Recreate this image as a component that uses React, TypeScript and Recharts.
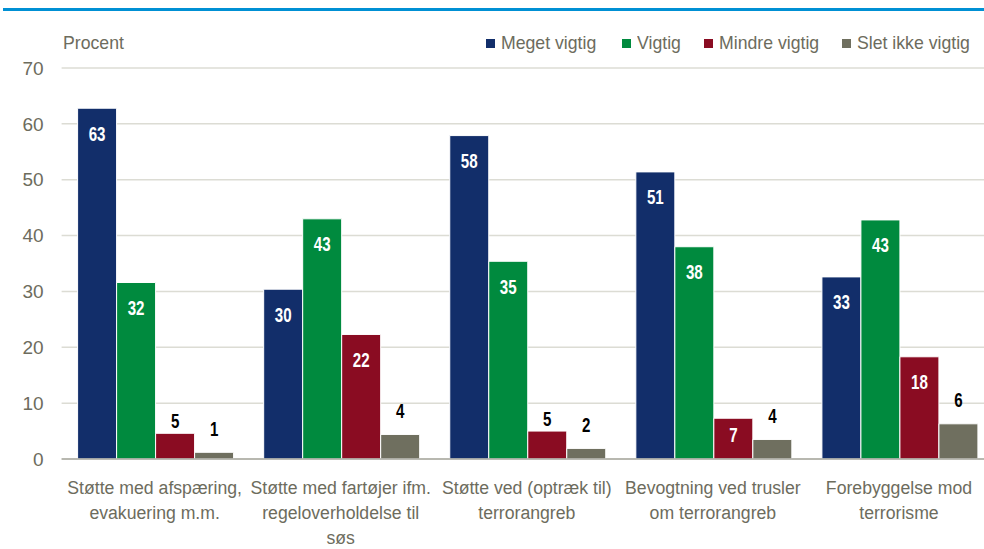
import React from 'react';
import {
  BarChart,
  Bar,
  XAxis,
  YAxis,
  CartesianGrid,
  LabelList,
} from 'recharts';

const categories = [
  ['Støtte med afspæring,', 'evakuering m.m.'],
  ['Støtte med fartøjer ifm.', 'regeloverholdelse til', 'søs'],
  ['Støtte ved (optræk til)', 'terrorangreb'],
  ['Bevogtning ved trusler', 'om terrorangreb'],
  ['Forebyggelse mod', 'terrorisme'],
];

const megetVigtig = [62.8, 30.4, 57.9, 51.4, 32.6];
const vigtig = [31.6, 43.0, 35.4, 38.0, 42.8];
const mindreVigtig = [4.6, 22.3, 5.0, 7.3, 18.3];
const sletIkkeVigtig = [1.2, 4.4, 1.9, 3.5, 6.3];

const yTicks = [0, 10, 20, 30, 40, 50, 60, 70];

const series = [
  { key: 'meget', name: 'Meget vigtig', color: '#122e6a', outside: 13 },
  { key: 'vigtig', name: 'Vigtig', color: '#008a3e', outside: 13 },
  { key: 'mindre', name: 'Mindre vigtig', color: '#8a0c22', outside: 13 },
  { key: 'slet', name: 'Slet ikke vigtig', color: '#6f6f5f', outside: 24 },
];

const data = categories.map((lines, i) => ({
  name: lines.join(' '),
  meget: megetVigtig[i],
  vigtig: vigtig[i],
  mindre: mindreVigtig[i],
  slet: sletIkkeVigtig[i],
}));

const FONT = "'Liberation Sans', Arial, sans-serif";
const TEXT = '#6d6c5d';
const SQUEEZE = 0.93; // the original uses a narrow font
const LABEL_SQUEEZE = 0.72;

const CategoryTick = ({ x, y, payload, index }: any) => {
  const lines = categories[index] || [payload.value];
  return (
    <text
      transform={`translate(${x} ${y}) scale(${SQUEEZE} 1)`}
      x={0}
      y={0}
      textAnchor="middle"
      fill={TEXT}
      fontFamily={FONT}
      fontSize={19}
    >
      {lines.map((l, i) => (
        <tspan key={i} x={0} dy={i === 0 ? 27 : 25}>
          {l}
        </tspan>
      ))}
    </text>
  );
};

const makeLabel = (outside: number) => (props: any) => {
  const { x, y, width, height, value } = props;
  const v = Math.round(value);
  const cx = x + width / 2;
  const inside = v >= 7;
  const cy = inside ? y + Math.min(25, height / 2 - 4) : y - outside;
  return (
    <text
      transform={`translate(${cx} ${cy}) scale(${LABEL_SQUEEZE} 1)`}
      x={0}
      y={0}
      dy="0.36em"
      textAnchor="middle"
      fill={inside ? '#fff' : '#000'}
      fontWeight="bold"
      fontFamily={FONT}
      fontSize={21}
    >
      {v}
    </text>
  );
};

export default function App() {
  return (
    <div
      style={{
        position: 'absolute',
        left: 0,
        top: 0,
        width: 984,
        height: 549,
        overflow: 'hidden',
        background: '#fff',
        fontFamily: FONT,
      }}
    >
      {/* blue rule under the (cropped) title */}
      <div style={{ position: 'absolute', left: 3, top: 8, width: 981, height: 3, background: '#0090d4' }} />

      <div
        style={{
          position: 'absolute',
          left: 63,
          top: 32,
          fontSize: 19,
          color: TEXT,
          transform: `scaleX(${SQUEEZE})`,
          transformOrigin: 'left',
        }}
      >
        Procent
      </div>

      {/* Legend */}
      {series.map((s, i) => {
        const lefts = [486, 622, 704, 842];
        return (
          <div
            key={s.key}
            style={{
              position: 'absolute',
              left: lefts[i],
              top: 32,
              whiteSpace: 'nowrap',
              display: 'flex',
              alignItems: 'center',
              fontSize: 19,
              color: TEXT,
            }}
          >
            <span style={{ display: 'inline-block', width: 9, height: 9, background: s.color, marginRight: 6 }} />
            <span style={{ display: 'inline-block', transform: `scaleX(${SQUEEZE})`, transformOrigin: 'left' }}>
              {s.name}
            </span>
          </div>
        );
      })}

      <div style={{ position: 'absolute', left: 0, top: 0 }}>
        <BarChart
          width={1000}
          height={549}
          data={data}
          margin={{ top: 68, right: 8, bottom: 10, left: 0 }}
          barCategoryGap={16}
          barGap={0}
        >
          <CartesianGrid vertical={false} stroke="#dcdcd4" strokeWidth={1.5} />
          <XAxis
            dataKey="name"
            tick={<CategoryTick />}
            tickLine={false}
            axisLine={{ stroke: '#a8a8a0', strokeWidth: 1.5 }}
            height={80}
            interval={0}
          />
          <YAxis
            width={61.6}
            domain={[0, 70]}
            ticks={yTicks}
            tickLine={false}
            axisLine={false}
            tickSize={0}
            tickMargin={18}
            tick={{ fill: TEXT, fontSize: 19, fontFamily: FONT }}
          />
          {series.map((s) => (
            <Bar
              key={s.key}
              dataKey={s.key}
              name={s.name}
              fill={s.color}
              stroke="#ffffff"
              strokeWidth={1}
              isAnimationActive={false}
            >
              <LabelList dataKey={s.key} content={makeLabel(s.outside)} />
            </Bar>
          ))}
        </BarChart>
      </div>
    </div>
  );
}
